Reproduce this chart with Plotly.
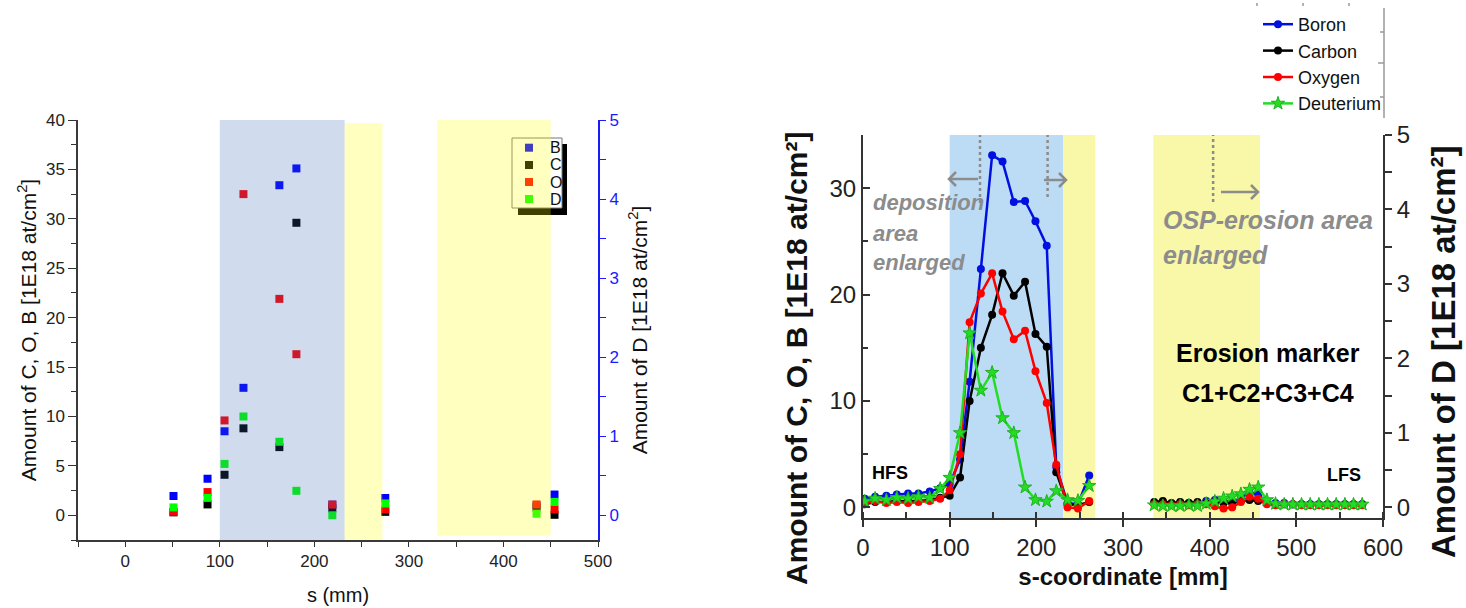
import plotly.graph_objects as go

W, H = 1466, 608
FONT = "Liberation Sans, Arial, sans-serif"

# ---------------- left panel: discrete samples ----------------
s_left = [51, 87, 105, 125, 163, 181, 219, 275, 435, 454]
B_left = [1.95, 3.7, 8.5, 12.9, 33.4, 35.1, 1.08, 1.75, 1.0, 2.1]
C_left = [0.3, 1.1, 4.1, 8.8, 6.9, 29.6, 0.7, 0.35, 0.8, 0.05]
O_left = [0.35, 2.35, 9.6, 32.5, 21.9, 16.3, 1.08, 0.6, 1.1, 0.6]
D_left = [0.1, 0.22, 0.65, 1.25, 0.93, 0.31, 0.0, 0.15, 0.02, 0.17]
left_names = ["B", "C", "O", "D"]
left_colors = ["#0000ff", "#000000", "#ff0000", "#00ff00"]

# ---------------- right panel: profiles along s ----------------
s_right = [2, 14, 27, 39, 52, 64, 77, 89, 100, 112, 123, 136, 149, 161, 174, 187,
           199, 212, 223, 236, 248, 261, 300,
           336, 346, 356, 366, 376, 386, 396, 406, 416, 426, 436, 446, 456, 466,
           476, 486, 496, 506, 516, 526, 536, 546, 556, 566, 576]
B_right = [0.8, 1.0, 1.1, 1.2, 1.3, 1.3, 1.5, 1.8, 2.2, 4.5, 11.8, 22.4, 33.1, 32.5, 28.7, 28.8,
           26.9, 24.6, 3.8, 0.4, 0.3, 3.0, None,
           0.4, 0.4, 0.3, 0.4, 0.4, 0.4, 0.6, 0.7, 0.6, 0.5, 0.9, 1.4, 1.2, 0.5,
           0.4, 0.4, 0.3, 0.3, 0.3, 0.3, 0.3, 0.3, 0.3, 0.3, 0.3]
C_right = [0.3, 0.5, 0.5, 0.6, 0.6, 0.6, 0.7, 0.9, 1.1, 2.8, 10.0, 15.0, 18.1, 22.0, 19.9, 21.2,
           16.3, 15.1, 3.3, 0.3, 0.2, 0.5, None,
           0.5, 0.6, 0.4, 0.5, 0.4, 0.5, 0.4, 0.5, 0.4, 0.4, 0.6, 0.7, 0.6, 0.4,
           0.3, 0.3, 0.3, 0.3, 0.3, 0.3, 0.3, 0.3, 0.3, 0.3, 0.3]
O_right = [0.4, 0.6, 0.4, 0.5, 0.4, 0.5, 0.6, 0.8, 1.6, 5.0, 17.4, 20.1, 22.0, 18.4, 15.8, 16.6,
           12.8, 9.8, 4.0, 0.0, -0.1, 0.6, None,
           0.3, 0.3, 0.2, 0.3, 0.2, 0.3, 0.3, 0.1, -0.1, 0.0, 0.5, 1.0, 0.8, 0.3,
           0.2, 0.3, 0.3, 0.2, 0.2, 0.2, 0.2, 0.2, 0.2, 0.2, 0.2]
D_right = [0.08, 0.12, 0.10, 0.13, 0.12, 0.14, 0.13, 0.25, 0.40, 1.0, 2.34, 1.57, 1.81, 1.20, 1.0, 0.27,
           0.10, 0.08, 0.22, 0.10, 0.09, 0.29, None,
           0.03, 0.02, 0.02, 0.02, 0.03, 0.02, 0.05, 0.08, 0.12, 0.15, 0.18, 0.24, 0.27, 0.10,
           0.05, 0.04, 0.04, 0.04, 0.04, 0.04, 0.04, 0.04, 0.04, 0.04, 0.04]


def px(x):
    return x / W


def py(y):
    return 1 - y / H


def pt(x, y):
    return f"{px(x):.6f},{py(y):.6f}"


fig = go.Figure()

# left panel markers (D on the right-hand axis)
for name, vals, col in zip(left_names, [B_left, C_left, O_left, D_left], left_colors):
    fig.add_trace(go.Scatter(
        x=s_left, y=vals, mode="markers", name=name, showlegend=False,
        marker=dict(symbol="square", size=8, color=col, line=dict(width=0)),
        xaxis="x", yaxis="y2" if name == "D" else "y"))

# right panel profiles
right_series = [
    ("Boron", B_right, "#0010e0", "circle", 8, "y3"),
    ("Carbon", C_right, "#000000", "circle", 8, "y3"),
    ("Oxygen", O_right, "#ff0000", "circle", 8, "y3"),
    ("Deuterium", D_right, "#22dd22", "star", 10, "y4"),
]
for name, vals, col, sym, size, yax in right_series:
    fig.add_trace(go.Scatter(
        x=s_right, y=vals, mode="lines+markers", name=name,
        line=dict(color=col, width=2.5),
        marker=dict(symbol=sym, size=size, color=col,
                    line=dict(width=1 if sym == "star" else 0, color="#20b020")),
        connectgaps=False, xaxis="x3", yaxis=yax))

shapes = []
# right panel shaded bands (behind the data)
shapes += [
    dict(type="rect", xref="x3", yref="y3 domain", x0=100, x1=231, y0=0, y1=1,
         fillcolor="#bcdcf6", line=dict(width=0), layer="below"),
    dict(type="rect", xref="x3", yref="y3 domain", x0=231, x1=268, y0=0, y1=1,
         fillcolor="#f9f7a8", line=dict(width=0), layer="below"),
    dict(type="rect", xref="x3", yref="y3 domain", x0=335, x1=458, y0=0, y1=1,
         fillcolor="#f9f7a8", line=dict(width=0), layer="below"),
]
gray = "#8c8c8c"
# dotted markers of the enlarged areas
for xs, ytop in [(135, 203), (213, 197), (404, 202)]:
    shapes.append(dict(type="line", xref="x3", yref="paper", x0=xs, x1=xs,
                       y0=py(ytop), y1=py(135),
                       line=dict(color=gray, width=2.5, dash="dot"), layer="above"))
# grey arrows (tail x, head x, y in pixels)
for x_tail, x_head, yy in [(978, 949, 179), (1044, 1066, 180), (1221, 1258, 192)]:
    d = 7 if x_head > x_tail else -7
    shapes.append(dict(type="line", xref="paper", yref="paper",
                       x0=px(x_tail), x1=px(x_head), y0=py(yy), y1=py(yy),
                       line=dict(color=gray, width=2.5), layer="above"))
    shapes.append(dict(type="path", xref="paper", yref="paper",
                       path=f"M{pt(x_head - d, yy - 7)} L{pt(x_head, yy)} L{pt(x_head - d, yy + 7)}",
                       line=dict(color=gray, width=2.5), layer="above"))

# left panel legend box with drop shadow
shapes += [
    dict(type="rect", xref="paper", yref="paper", x0=px(518), x1=px(567), y0=py(215), y1=py(144),
         fillcolor="#000000", line=dict(width=0), layer="above"),
    dict(type="rect", xref="paper", yref="paper", x0=px(512), x1=px(562), y0=py(208), y1=py(138),
         fillcolor="#ffffff", line=dict(color="#777777", width=1), layer="above"),
]
leg_y = [147.7, 165, 182, 199]
for yy, col in zip(leg_y, left_colors):
    shapes.append(dict(type="rect", xref="paper", yref="paper",
                       x0=px(525), x1=px(533), y0=py(yy + 4), y1=py(yy - 4),
                       fillcolor=col, line=dict(width=0), layer="above"))

# left panel translucent bands drawn over the markers
shapes += [
    dict(type="rect", xref="x", yref="y domain", x0=100, x1=232, y0=0, y1=1,
         fillcolor="rgba(50,103,181,0.23)", line=dict(width=0), layer="above"),
    dict(type="rect", xref="x", yref="y domain", x0=232, x1=272, y0=0, y1=0.993,
         fillcolor="rgba(255,255,0,0.25)", line=dict(width=0), layer="above"),
    dict(type="rect", xref="x", yref="y domain", x0=330, x1=450, y0=0.01, y1=1,
         fillcolor="rgba(255,255,0,0.25)", line=dict(width=0), layer="above"),
]

# small axis remnant next to the right legend
shapes.append(dict(type="line", xref="paper", yref="paper", x0=px(1384), x1=px(1384),
                   y0=py(118), y1=py(8), line=dict(color="#999999", width=1.5)))
for yy, ln in [(32, 4), (63, 6), (97, 4)]:
    shapes.append(dict(type="line", xref="paper", yref="paper", x0=px(1384 - ln), x1=px(1384),
                       y0=py(yy), y1=py(yy), line=dict(color="#999999", width=1.5)))
for xx in [1257, 1303, 1349]:
    shapes.append(dict(type="line", xref="paper", yref="paper", x0=px(xx), x1=px(xx),
                       y0=py(6), y1=py(3), line=dict(color="#999999", width=1.5)))

annotations = []
for yy, name in zip(leg_y, left_names):
    annotations.append(dict(text=name, xref="paper", yref="paper", x=px(548), y=py(yy),
                            xanchor="left", yanchor="middle", showarrow=False,
                            font=dict(family=FONT, size=16, color="#111111")))

for txt, yy in [("deposition", 202), ("area", 233), ("enlarged", 262)]:
    annotations.append(dict(text=txt, xref="paper", yref="paper", x=px(871), y=py(yy),
                            xanchor="left", yanchor="middle", showarrow=False,
                            font=dict(family=FONT, size=22, color=gray, weight="bold",
                                      style="italic")))
for txt, yy in [("OSP-erosion area", 220), ("enlarged", 255)]:
    annotations.append(dict(text=txt, xref="paper", yref="paper", x=px(1161), y=py(yy),
                            xanchor="left", yanchor="middle", showarrow=False,
                            font=dict(family=FONT, size=25, color=gray, weight="bold",
                                      style="italic")))
for txt, yy in [("Erosion marker", 353), ("C1+C2+C3+C4", 393)]:
    annotations.append(dict(text=txt, xref="paper", yref="paper", x=px(1268), y=py(yy),
                            xanchor="center", yanchor="middle", showarrow=False,
                            font=dict(family=FONT, size=25, color="#000000", weight="bold")))
for txt, xx, yy in [("HFS", 890, 473), ("LFS", 1344, 475)]:
    annotations.append(dict(text=txt, xref="paper", yref="paper", x=px(xx), y=py(yy),
                            xanchor="center", yanchor="middle", showarrow=False,
                            font=dict(family="Liberation Sans Narrow, " + FONT, size=18,
                                      color="#000000", weight="bold")))
# right panel axis titles
annotations += [
    dict(text="Amount of C, O, B [1E18 at/cm²]", xref="paper", yref="paper",
         x=px(796), y=py(359), textangle=-90, showarrow=False,
         xanchor="center", yanchor="middle",
         font=dict(family=FONT, size=30, color="#111111", weight="bold")),
    dict(text="Amount of D [1E18 at/cm²]", xref="paper", yref="paper",
         x=px(1443), y=py(352), textangle=-90, showarrow=False,
         xanchor="center", yanchor="middle",
         font=dict(family=FONT, size=33, color="#111111", weight="bold")),
]

tick_l = dict(family=FONT, size=17, color="#222222")
tick_r = dict(family=FONT, size=24, color="#222222")

fig.update_layout(
    width=W, height=H,
    margin=dict(l=0, r=0, t=0, b=0, autoexpand=False),
    paper_bgcolor="white", plot_bgcolor="white",
    font=dict(family=FONT),
    shapes=shapes, annotations=annotations,
    showlegend=True,
    legend=dict(x=px(1258), y=py(6), xanchor="left", yanchor="top",
                bgcolor="rgba(0,0,0,0)", borderwidth=0, tracegroupgap=0,
                font=dict(family=FONT, size=18, color="#111111")),
    # left panel axes
    xaxis=dict(domain=[px(78), px(598)], anchor="y", range=[-50, 500], automargin=False,
               tick0=0, dtick=100, ticks="outside", ticklen=5, tickcolor="#333",
               minor=dict(dtick=50, ticks="outside", ticklen=5, tickcolor="#333"),
               showline=True, linecolor="#3a3a3a", linewidth=1.5,
               showgrid=False, zeroline=False, tickfont=tick_l,
               title=dict(text="s (mm)", font=dict(family=FONT, size=20, color="#111"),
                          standoff=18)),
    xaxis5=dict(overlaying="x", side="top", anchor="y", range=[-50, 500], automargin=False,
                tick0=0, dtick=50, ticks="inside", ticklen=7, tickcolor="#333",
                showticklabels=False, showline=True, linecolor="#777777", linewidth=1.5,
                showgrid=False, zeroline=False),
    yaxis=dict(domain=[py(540), py(120)], anchor="x", range=[-2.5, 40], automargin=False,
               tick0=0, dtick=5, ticks="outside", ticklen=8, tickcolor="#333",
               minor=dict(dtick=2.5, ticks="outside", ticklen=5, tickcolor="#333"),
               showline=True, linecolor="#3a3a3a", linewidth=1.5,
               showgrid=False, zeroline=False, tickfont=tick_l,
               title=dict(text="Amount of C, O, B [1E18 at/cm<sup>2</sup>]",
                          font=dict(family=FONT, size=21, color="#111"), standoff=4)),
    yaxis2=dict(overlaying="y", side="right", anchor="x", range=[-0.3125, 5], automargin=False,
                tick0=0, dtick=1, ticks="outside", ticklen=6, tickcolor="#1a1aff",
                minor=dict(dtick=0.5, ticks="outside", ticklen=6, tickcolor="#1a1aff"),
                showline=True, linecolor="#1a1aff", linewidth=2,
                showgrid=False, zeroline=False,
                tickfont=dict(family=FONT, size=17, color="#1a1aff"),
                title=dict(text="Amount of D [1E18 at/cm<sup>2</sup>]",
                           font=dict(family=FONT, size=21, color="#111"), standoff=14)),
    # right panel axes
    xaxis3=dict(domain=[px(863), px(1383)], anchor="y3", range=[0, 600], automargin=False,
                tick0=0, dtick=100, ticks="outside", ticklen=7, tickwidth=2, tickcolor="#333",
                minor=dict(dtick=50, ticks="inside", ticklen=6, tickwidth=2, tickcolor="#333"),
                showline=True, linecolor="#333333", linewidth=2,
                showgrid=False, zeroline=False, tickfont=tick_r,
                title=dict(text="s-coordinate [mm]",
                           font=dict(family=FONT, size=24, color="#111", weight="bold"),
                           standoff=8)),
    xaxis4=dict(overlaying="x3", side="top", anchor="y3", range=[0, 600], automargin=False,
                tick0=0, dtick=50, ticks="inside", ticklen=6, tickwidth=2, tickcolor="#333",
                showticklabels=False, showline=True, linecolor="#444444", linewidth=2,
                showgrid=False, zeroline=False),
    yaxis3=dict(domain=[py(518), py(135)], anchor="x3", range=[-1, 35], automargin=False,
                tick0=0, dtick=10, ticks="inside", ticklen=7, tickwidth=2, tickcolor="#333",
                minor=dict(dtick=5, ticks="inside", ticklen=5, tickwidth=2, tickcolor="#333"),
                showline=True, linecolor="#333333", linewidth=2,
                showgrid=False, zeroline=False, tickfont=tick_r),
    yaxis4=dict(overlaying="y3", side="right", anchor="x3", range=[-1 / 7, 5], automargin=False,
                tick0=0, dtick=1, ticks="outside", ticklen=7, tickwidth=2, tickcolor="#333",
                minor=dict(dtick=0.5, ticks="outside", ticklen=7, tickwidth=2, tickcolor="#333"),
                showline=True, linecolor="#333333", linewidth=2,
                showgrid=False, zeroline=False, tickfont=tick_r),
)

fig.write_html("out.html")
